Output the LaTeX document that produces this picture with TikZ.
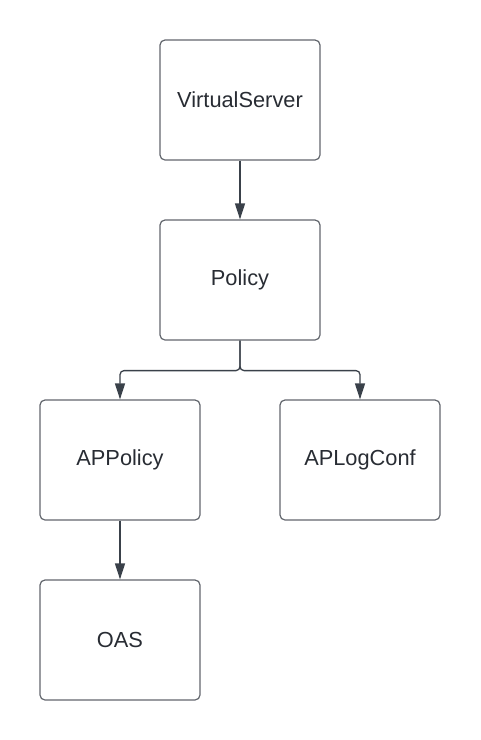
\documentclass[tikz,border=0pt]{standalone}
\usepackage{fontspec}
\setmainfont{Liberation Sans}
\usetikzlibrary{arrows.meta}
\definecolor{boxline}{HTML}{62666D}
\definecolor{arrline}{HTML}{3A414A}
\definecolor{txt}{HTML}{282C33}
\begin{document}
\begin{tikzpicture}[x=1pt,y=-1pt,
  entity/.style={draw=boxline,line width=1.2pt,rounded corners=5pt,minimum width=160pt,minimum height=120pt,inner sep=0pt,text=txt,font=\fontsize{21.8}{26}\selectfont},
  conn/.style={draw=arrline,line width=1.3pt,rounded corners=4pt,-{Triangle[length=16pt,width=10pt]}}]
\useasboundingbox (0,0) rectangle (480,740);
\node[entity] (vs) at (240,100) {VirtualServer};
\node[entity] (pol) at (240,280) {Policy};
\node[entity] (app) at (120,460) {APPolicy};
\node[entity] (log) at (360,460) {APLogConf};
\node[entity] (oas) at (120,640) {OAS};
\draw[conn] (vs) -- (pol);
\draw[conn] (pol.south) |- ++(0,30) -| (app.north);
\draw[conn] (pol.south) |- ++(0,30) -| (log.north);
\draw[conn] (app) -- (oas);
\end{tikzpicture}
\end{document}
